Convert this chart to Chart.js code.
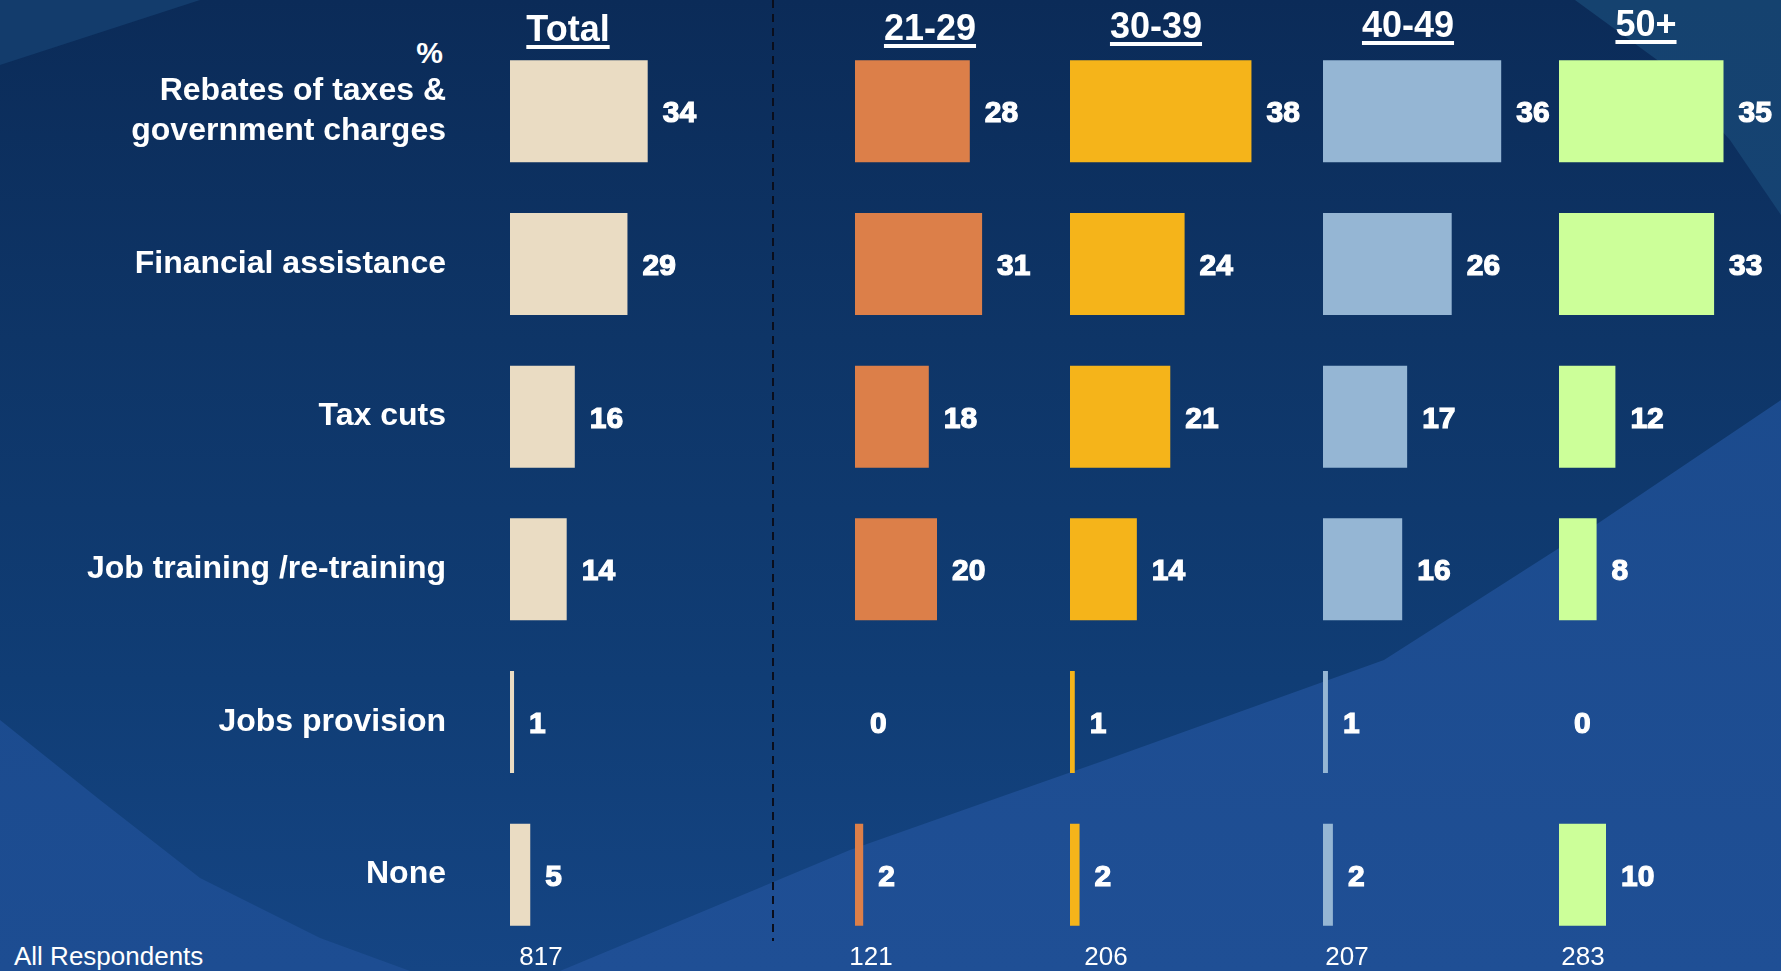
<!DOCTYPE html>
<html>
<head>
<meta charset="utf-8">
<script src="https://cdn.jsdelivr.net/npm/chart.js@4.4.1/dist/chart.umd.min.js"></script>
<style>
  body {
    margin: 0;
    width: 1781px;
    height: 971px;
    overflow: hidden;
    position: relative;
    font-family: "Liberation Sans", Arial, sans-serif;
    color: #fff;
    background: linear-gradient(180deg, #0b2b58 0%, #0e3567 35%, #103d75 70%, #154584 100%);
  }
  .shade { position: absolute; left: 0; top: 0; width: 1781px; height: 971px; }
  /* lighter patches in the backdrop */
  #shadeTL { background: #133c6c; clip-path: polygon(0 0, 200px 0, 0 65px); }
  #shadeTR { background: linear-gradient(180deg, #15426f, #18477f);
    clip-path: polygon(1575px 0, 1781px 0, 1781px 215px, 1730px 140px, 1660px 62px); }
  #shadeLL { background: linear-gradient(180deg, #184787, #1d4d92);
    clip-path: polygon(0 720px, 100px 800px, 200px 878px, 320px 938px, 410px 971px, 0 971px); }
  #shadeLR { background: linear-gradient(180deg, #194888, #1f4f95);
    clip-path: polygon(560px 971px, 850px 850px, 1100px 762px, 1384px 660px, 1600px 522px, 1781px 400px, 1781px 971px); }
  #divider {
    position: absolute; left: 772px; top: 0; width: 2px; height: 941px;
    background: repeating-linear-gradient(180deg, #0a0e1c 0 8px, transparent 8px 14px);
  }
  canvas { position: absolute; top: 0; }
  .head {
    position: absolute; width: 300px; text-align: center;
    font-weight: bold; font-size: 36px; line-height: 36px;
    text-decoration: underline; text-decoration-thickness: 3.5px; text-underline-offset: 4px;
  }
  #pct {
    position: absolute; left: 343px; top: 38px; width: 100px; text-align: right;
    font-weight: bold; font-size: 30px; line-height: 30px;
  }
  .base {
    position: absolute; top: 943px; font-size: 26px; line-height: 26px; white-space: nowrap;
  }
</style>
</head>
<body>
<div class="shade" id="shadeTL"></div>
<div class="shade" id="shadeTR"></div>
<div class="shade" id="shadeLL"></div>
<div class="shade" id="shadeLR"></div>
<div id="divider"></div>
<div id="pct">%</div>
<div class="base" style="left:14px">All Respondents</div>

<script>
// answers (%) by age group
const categories = [
  ['Rebates of taxes &', 'government charges'],
  'Financial assistance',
  'Tax cuts',
  'Job training /re-training',
  'Jobs provision',
  'None'
];
const groups = ['Total', '21-29', '30-39', '40-49', '50+'];
const totalValues = [34, 29, 16, 14, 1, 5];
const age2129 = [28, 31, 18, 20, 0, 2];
const age3039 = [38, 24, 21, 14, 1, 2];
const age4049 = [36, 26, 17, 16, 1, 2];
const age50plus = [35, 33, 12, 8, 0, 10];
const baseSizes = [817, 121, 206, 207, 283];

// one small chart per column; left = where the bars start, unit = px per point
const panels = [
  { values: totalValues, color: '#EADCC3', left: 510,  unit: 4.05, headX: 568,  headBase: 41, baseX: 541 },
  { values: age2129,     color: '#DC7F49', left: 855,  unit: 4.12, headX: 930,  headBase: 40, baseX: 871 },
  { values: age3039,     color: '#F5B41A', left: 1070, unit: 4.78, headX: 1156, headBase: 38, baseX: 1106 },
  { values: age4049,     color: '#95B6D4', left: 1323, unit: 4.95, headX: 1408, headBase: 37, baseX: 1347 },
  { values: age50plus,   color: '#CCFF99', left: 1559, unit: 4.71, headX: 1646, headBase: 36, baseX: 1583 }
];
const X_MAX = 40;
const LABEL_ROOM = 40;

Chart.defaults.font.family = '"Liberation Sans", Arial, sans-serif';
Chart.defaults.color = '#ffffff';

// white numbers just right of each bar
const valueLabels = {
  id: 'valueLabels',
  afterDatasetsDraw(chart) {
    const ctx = chart.ctx;
    const data = chart.data.datasets[0].data;
    ctx.save();
    ctx.font = 'bold 30px "Liberation Sans", Arial, sans-serif';
    ctx.fillStyle = '#ffffff';
    ctx.strokeStyle = '#ffffff';
    ctx.lineWidth = 1.2;
    ctx.textBaseline = 'alphabetic';
    chart.getDatasetMeta(0).data.forEach((bar, i) => {
      const txt = String(data[i]);
      ctx.strokeText(txt, bar.x + 15, bar.y + 11);
      ctx.fillText(txt, bar.x + 15, bar.y + 11);
    });
    ctx.restore();
  }
};

panels.forEach((p, idx) => {
  const first = idx === 0;
  const areaW = X_MAX * p.unit;
  const canvas = document.createElement('canvas');
  canvas.width = (first ? p.left : 0) + areaW + LABEL_ROOM;
  canvas.height = 971;
  canvas.style.left = (first ? 0 : p.left) + 'px';
  document.body.appendChild(canvas);

  const yScale = {
    display: first,
    grid: { display: false, drawTicks: false },
    border: { display: false },
    ticks: {
      color: '#ffffff',
      padding: 64,
      font: { size: 32, weight: 'bold', lineHeight: 1.25 }
    }
  };
  if (first) {
    // fixed label column, and no extra top/bottom room for the labels
    yScale.afterFit = (scale) => {
      scale.width = p.left;
      scale.paddingTop = 0;
      scale.paddingBottom = 0;
    };
  }

  new Chart(canvas.getContext('2d'), {
    type: 'bar',
    data: {
      labels: categories,
      datasets: [{
        data: p.values,
        backgroundColor: p.color,
        borderWidth: 0,
        barPercentage: 0.668,
        categoryPercentage: 1
      }]
    },
    options: {
      indexAxis: 'y',
      responsive: false,
      animation: false,
      layout: { padding: { top: 35, bottom: 20, left: 0, right: LABEL_ROOM } },
      plugins: {
        legend: { display: false },
        tooltip: { enabled: false }
      },
      scales: {
        x: { display: false, min: 0, max: X_MAX },
        y: yScale
      }
    },
    plugins: [valueLabels]
  });

  // column heading
  const head = document.createElement('div');
  head.className = 'head';
  head.textContent = groups[idx];
  head.style.left = (p.headX - 150) + 'px';
  head.style.top = (p.headBase - 30.5) + 'px';
  document.body.appendChild(head);

  // base size under the column
  const base = document.createElement('div');
  base.className = 'base';
  base.textContent = baseSizes[idx];
  base.style.left = (p.baseX - 60) + 'px';
  base.style.width = '120px';
  base.style.textAlign = 'center';
  document.body.appendChild(base);
});
</script>
</body>
</html>
